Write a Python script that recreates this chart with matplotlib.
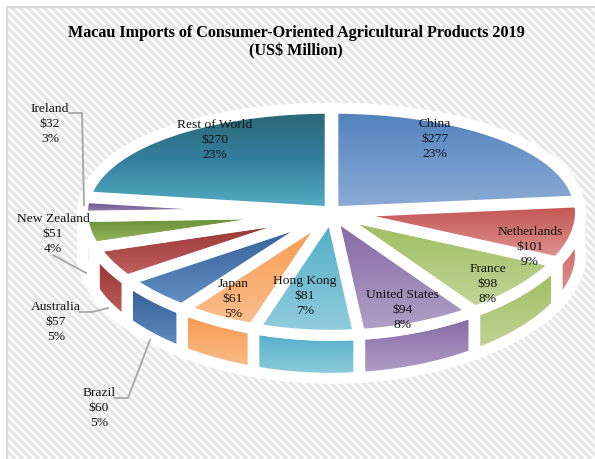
import numpy as np
import matplotlib
matplotlib.use("Agg")
import matplotlib.pyplot as plt
from matplotlib.colors import to_rgb
from matplotlib.patches import Polygon

plt.rcParams['font.family'] = ['Liberation Serif', 'DejaVu Serif']

# Import values, clockwise from twelve o'clock (US$ million)
countries = ["China", "Netherlands", "France", "United States", "Hong Kong", "Japan",
             "Brazil", "Australia", "New Zealand", "Ireland", "Rest of World"]
values = [277, 101, 98, 94, 81, 61, 60, 57, 51, 32, 270]
title_text = "Macau Imports of Consumer-Oriented Agricultural Products 2019\n(US$ Million)"

# Vertical gradient stops for each slice
shades = [
    ["#4f81bd", "#8fadd6"], ["#c0504d", "#e09896"], ["#9bbb59", "#c3d69b"],
    ["#8064a2", "#b3a2c7"], ["#4bacc6", "#93cddd"], ["#f79646", "#fac090"],
    ["#2c5a92", "#6492c6"], ["#8e2f2c", "#c46462"], ["#5c872c", "#9dbd66"],
    ["#54367f", "#a699bf"], ["#2b6573", "#347f9f", "#59b0c6"],
]

# Label anchors and leader lines, in pixels from the top-left corner
label_pos = {
    "China": (435, 139), "Netherlands": (530, 247), "France": (488, 284),
    "United States": (403, 310), "Hong Kong": (305, 296), "Japan": (233, 299),
    "Brazil": (99, 408), "Australia": (56, 322), "New Zealand": (53, 234),
    "Ireland": (50, 124), "Rest of World": (215, 140),
}
leaders = [
    [(69, 113), (82, 113), (84, 205)],
    [(53, 255), (86, 273)],
    [(80, 312), (92, 312), (108, 308)],
    [(115, 398), (128, 398), (150, 340)],
]

W, H = 595, 459
CX, CY = 331.5, 212.5
RX, RY = 247.0, 112.0
PERSP = 0.08
EXPLODE = 0.008
DEPTH = 43.0
GAP_PX = 11.0


def project(theta_deg, radius=1.0, bisector=None):
    """Map disc polar coordinates (clockwise from the top) to the page."""
    t = np.radians(theta_deg)
    u = radius * np.sin(t)
    v = -radius * np.cos(t)
    if bisector is not None:
        m = np.radians(bisector)
        u = u + EXPLODE * np.sin(m)
        v = v - EXPLODE * np.cos(m)
    return CX + RX * u, CY + RY * v / (1.0 - PERSP * v)


def gradient_fill(ax, pts, stops, zorder):
    """Paint a polygon with a top-to-bottom colour ramp."""
    pts = np.asarray(pts)
    rgb = np.array([to_rgb(c) for c in stops])
    pos = np.linspace(0, 1, len(stops))
    ramp = np.linspace(0, 1, 128)
    img = np.stack([np.interp(ramp, pos, rgb[:, i]) for i in range(3)], axis=1)[:, None, :]
    im = ax.imshow(img, extent=(pts[:, 0].min(), pts[:, 0].max(), pts[:, 1].max(), pts[:, 1].min()),
                   aspect='auto', zorder=zorder, interpolation='bilinear')
    clip = Polygon(pts, closed=True, transform=ax.transData)
    im.set_clip_path(clip)


def white_outline(ax, pts, zorder):
    ax.add_patch(Polygon(pts, closed=True, fill=False, edgecolor='white',
                         linewidth=GAP_PX * 0.72, joinstyle='round', zorder=zorder))


fig = plt.figure(figsize=(W / 100, H / 100), dpi=100, facecolor='white')
ax = fig.add_axes([0, 0, 1, 1])

# Striped chart-area background with a grey edge on the left and top
yy, xx = np.mgrid[0:H, 0:W]
phase = ((xx - yy) % 8.0) / 8.0
stripe = 0.5 + 0.5 * np.cos(2 * np.pi * phase)
tone = 0.895 + (0.985 - 0.895) * np.clip(stripe * 1.6 - 0.3, 0, 1)
ax.imshow(np.dstack([tone] * 3), extent=(0, W, H, 0), aspect='auto', zorder=0,
          interpolation='nearest')
ax.fill_between([0, W], 0, 5.5, color='white', zorder=0.5, lw=0)
ax.fill_between([0, 6], 0, H, color='white', zorder=0.5, lw=0)
ax.plot([7, 7, W], [H, 6.5, 6.5], color='#d9d9d9', lw=1.6, zorder=0.6, solid_joinstyle='miter')

total = sum(values)
edges = np.concatenate([[0], np.cumsum(values)]) / total * 360.0

faces = []
for i, (name, val) in enumerate(zip(countries, values)):
    a0, a1 = edges[i], edges[i + 1]
    mid = (a0 + a1) / 2
    arc = np.linspace(a0, a1, 80)
    x, y = project(arc, 1.0, mid)
    ax0, ay0 = project(a0, 0.0, mid)
    face = np.vstack([[ax0, ay0], np.column_stack([x, y])])
    faces.append(face)

    # Side wall for the arc facing the viewer
    lo, hi = max(a0, 85.0), min(a1, 270.0)
    if hi > lo:
        arc = np.linspace(lo, hi, 60)
        x, y = project(arc, 1.0, mid)
        wall = np.vstack([np.column_stack([x, y]), np.column_stack([x, y + DEPTH])[::-1]])
        gradient_fill(ax, wall, shades[i], 1)
        white_outline(ax, wall, 2)

for face, stops in zip(faces, shades):
    gradient_fill(ax, face, stops, 3)
for face in faces:
    white_outline(ax, face, 4)

for line in leaders:
    px, py = zip(*line)
    ax.plot(px, py, color='#a6a6a6', lw=1.3, zorder=5, solid_joinstyle='round')

for name, val in zip(countries, values):
    lx, ly = label_pos[name]
    pct = round(val / total * 100)
    ax.text(lx, ly, f"{name}\n${val}\n{pct}%", ha='center', va='center', fontsize=9.7,
            linespacing=1.3, color='#111111', zorder=6)

ax.text(296, 42.5, title_text, ha='center', va='center', fontsize=11.6, fontweight='bold',
        linespacing=1.2, color='black', zorder=6)

ax.set_xlim(0, W)
ax.set_ylim(H, 0)
ax.axis('off')
fig.savefig('out.png', dpi=100, facecolor='white')
